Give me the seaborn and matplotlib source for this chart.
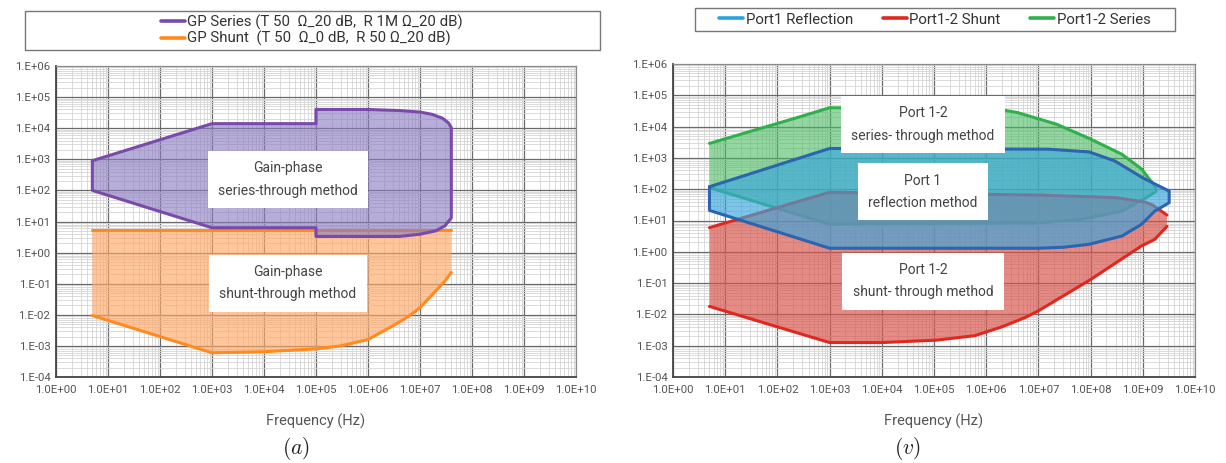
import numpy as np
import matplotlib
matplotlib.use("Agg")
import matplotlib.pyplot as plt
import seaborn as sns
from matplotlib.lines import Line2D
from matplotlib.patches import Rectangle
from matplotlib.ticker import LogLocator, FixedLocator, FixedFormatter

# ---------------- data ----------------
# Panel (a)
gp_series_up_f = [5, 1e3, 1e5, 1e5, 1e6, 4e6, 1e7, 1.7e7, 2.7e7, 3.5e7, 4e7]
gp_series_up_v = [900, 1.4e4, 1.4e4, 4e4, 4e4, 3.7e4, 3.3e4, 2.8e4, 2.1e4, 1.5e4, 1.05e4]
gp_series_lo_f = [5, 1e3, 1e5, 1e5, 4e6, 1e7, 2e7, 3e7, 4e7]
gp_series_lo_v = [100, 6.3, 6.3, 3.3, 3.3, 3.9, 5.0, 7.2, 13]

gp_shunt_up_f = [5, 4e7]
gp_shunt_up_v = [5.2, 5.2]
gp_shunt_lo_f = [5, 1e3, 1e4, 1e5, 3e5, 1e6, 3e6, 6.3e6, 1e7, 2e7, 3e7, 4e7]
gp_shunt_lo_v = [0.0095, 6e-4, 6.5e-4, 8e-4, 1.0e-3, 1.6e-3, 4.4e-3, 9.3e-3,
                 0.017, 0.058, 0.12, 0.23]

# Panel (v)
ser_up_f = [5, 2.3e2, 1e3, 1.4e6, 4e6, 2.2e7, 1e8, 4e8, 9.5e8, 1.8e9]
ser_up_v = [2.9e3, 1.9e4, 4e4, 3.8e4, 2.8e4, 1.2e4, 4e3, 1.3e3, 440, 110]
ser_lo_f = [5, 1e3, 1e7, 7e7, 4e8, 1.3e9, 1.8e9]
ser_lo_v = [112, 7.6, 8.4, 11, 20, 60, 85]

refl_up_f = [5, 1e3, 1.6e7, 9.4e7, 2.9e8, 1e9, 3.2e9]
refl_up_v = [120, 2e3, 1.9e3, 1.55e3, 800, 230, 87]
refl_lo_f = [5, 1e3, 1e7, 3.1e7, 9.4e7, 4e8, 9.5e8, 1.7e9, 3.2e9]
refl_lo_v = [21, 1.3, 1.3, 1.4, 1.74, 3.2, 7.6, 20, 37]

sh_up_f = [5, 1e3, 1e7, 2.9e8, 1.1e9, 1.5e9, 2.9e9]
sh_up_v = [5.9, 80, 65, 54, 39, 32, 15]
sh_lo_f = [5, 1e3, 1e4, 1.1e5, 6.1e5, 2e6, 5.6e6, 1e7, 1e8, 9.5e8, 1.7e9, 2.9e9]
sh_lo_v = [0.018, 1.26e-3, 1.26e-3, 1.5e-3, 2.1e-3, 4e-3, 8e-3, 0.013, 0.13, 1.55, 2.5, 6.5]

x_ticks = [10.0 ** k for k in range(0, 11)]
x_labels = ["1.0E+%02d" % k for k in range(0, 11)]
y_ticks = [10.0 ** k for k in range(-4, 7)]
y_labels = ["1.E%+03d" % k for k in range(-4, 7)]

legend_a = ["GP Series (T 50  \u03a9_20 dB,  R 1M \u03a9_20 dB)",
            "GP Shunt  (T 50  \u03a9_0 dB,  R 50 \u03a9_20 dB)"]
legend_v = ["Port1 Reflection", "Port1-2 Shunt", "Port1-2 Series"]

# ---------------- style ----------------
sns.set_theme(style="white")
plt.rcParams["font.family"] = ["Roboto", "DejaVu Sans"]
plt.rcParams["mathtext.fontset"] = "cm"

W, H = 1226, 463
fig = plt.figure(figsize=(W / 100, H / 100), dpi=100)
ax_a = fig.add_axes([56 / W, 1 - 377 / H, 520 / W, 311 / H])
ax_v = fig.add_axes([673 / W, 1 - 377 / H, 522 / W, 313 / H])


def setup(ax):
    ax.set_xscale("log")
    ax.set_yscale("log")
    ax.set_xlim(1, 1e10)
    ax.set_ylim(1e-4, 1e6)
    ax.xaxis.set_major_locator(FixedLocator(x_ticks))
    ax.xaxis.set_major_formatter(FixedFormatter(x_labels))
    ax.yaxis.set_major_locator(FixedLocator(y_ticks))
    ax.yaxis.set_major_formatter(FixedFormatter(y_labels))
    ax.xaxis.set_minor_locator(LogLocator(base=10, subs=np.arange(2, 10), numticks=100))
    ax.yaxis.set_minor_locator(LogLocator(base=10, subs=np.arange(2, 10), numticks=100))
    ax.grid(which="major", color="#6a6a6a", lw=0.9, zorder=0)
    ax.grid(which="minor", color="#d4d4d4", lw=0.6, zorder=0)
    ax.set_axisbelow(True)
    ax.tick_params(which="both", length=0)
    ax.tick_params(axis="x", labelsize=8.2, labelcolor="#555555", pad=6)
    ax.tick_params(axis="y", labelsize=8.2, labelcolor="#555555", pad=4)
    for s in ["left", "bottom"]:
        ax.spines[s].set_color("#444444")
        ax.spines[s].set_linewidth(1.3)
    for s in ["top", "right"]:
        ax.spines[s].set_color("#8a8a8a")
        ax.spines[s].set_linewidth(0.9)
    ax.set_xlabel("Frequency (Hz)", fontsize=10.5, color="#555555", labelpad=13)
    ax.set_ylabel("")


def band(ax, fu, vu, fl, vl, edge, fill, alpha, closed, z):
    xs = np.r_[fu, fl[::-1]]
    ys = np.r_[vu, vl[::-1]]
    ax.fill(xs, ys, color=fill, alpha=alpha, lw=0, zorder=z)
    if closed:
        sns.lineplot(x=np.r_[xs, xs[:1]], y=np.r_[ys, ys[:1]], sort=False,
                     estimator=None, color=edge, lw=2.2, ax=ax, zorder=z + 0.5)
    else:
        sns.lineplot(x=fu, y=vu, sort=False, estimator=None, color=edge,
                     lw=2.2, ax=ax, zorder=z + 0.5)
        sns.lineplot(x=fl, y=vl, sort=False, estimator=None, color=edge,
                     lw=2.2, ax=ax, zorder=z + 0.5)


setup(ax_a)
setup(ax_v)

PURPLE, PURPLE_F = "#7a4aaa", "#8a7cc2"
ORANGE, ORANGE_F = "#ff8a1e", "#ffa866"
GREEN, GREEN_F = "#2fb04a", "#4cbb62"
BLUE, BLUE_F = "#2b64b0", "#38a6dc"
RED, RED_F = "#e0281e", "#d9544c"
LBLUE = "#29a3dd"

# Panel (a)
band(ax_a, gp_shunt_up_f, gp_shunt_up_v, gp_shunt_lo_f, gp_shunt_lo_v,
     ORANGE, ORANGE_F, 0.65, False, 2)
band(ax_a, gp_series_up_f, gp_series_up_v, gp_series_lo_f, gp_series_lo_v,
     PURPLE, PURPLE_F, 0.62, True, 3)

# Panel (v)
band(ax_v, ser_up_f, ser_up_v, ser_lo_f, ser_lo_v, GREEN, GREEN_F, 0.6, False, 2)
band(ax_v, sh_up_f, sh_up_v, sh_lo_f, sh_lo_v, RED, RED_F, 0.68, False, 3)
band(ax_v, refl_up_f, refl_up_v, refl_lo_f, refl_lo_v, BLUE, BLUE_F, 0.66, True, 4)

box = dict(boxstyle="square,pad=0.75", facecolor="white", edgecolor="none")
kw = dict(ha="center", va="center", fontsize=10, color="#444444",
          linespacing=1.75, bbox=box, zorder=10)
ax_a.text(10 ** 4.46, 10 ** 2.35, "Gain-phase\nseries-through method", **kw)
ax_a.text(10 ** 4.46, 10 ** -0.98, "Gain-phase\nshunt-through method", **kw)
ax_v.text(10 ** 4.79, 10 ** 4.07, "Port 1-2\nseries- through method", **kw)
ax_v.text(10 ** 4.79, 10 ** 1.92, "Port 1\nreflection method", **kw)
ax_v.text(10 ** 4.79, 10 ** -0.94, "Port 1-2\nshunt- through method", **kw)

for ax in (ax_a, ax_v):
    if ax.get_legend() is not None:
        ax.get_legend().remove()

# Legend boxes
fig.patches.append(Rectangle((25 / W, 1 - 50 / H), 575 / W, 39 / H, transform=fig.transFigure,
                             facecolor="white", edgecolor="#777777", lw=1.0, zorder=0))
fig.patches.append(Rectangle((695 / W, 1 - 31 / H), 480 / W, 23 / H, transform=fig.transFigure,
                             facecolor="white", edgecolor="#777777", lw=1.0, zorder=0))

h_a = [Line2D([], [], color=PURPLE, lw=2.6), Line2D([], [], color=ORANGE, lw=2.6)]
fig.legend(h_a, legend_a, loc="center", bbox_to_anchor=(312 / W, 1 - 30.5 / H),
           ncol=1, frameon=False, fontsize=10.8, handlelength=1.6, handletextpad=0.15,
           labelspacing=0.05, borderpad=0, labelcolor="#333333")
h_v = [Line2D([], [], color=LBLUE, lw=2.6), Line2D([], [], color=RED, lw=2.6),
       Line2D([], [], color=GREEN, lw=2.6)]
fig.legend(h_v, legend_v, loc="center", bbox_to_anchor=(935 / W, 1 - 19.5 / H),
           ncol=3, frameon=False, fontsize=10.8, handlelength=1.6, handletextpad=0.15,
           columnspacing=2.0, borderpad=0, labelcolor="#333333")

fig.text(296 / W, 1 - 448 / H, r"$(a)$", ha="center", va="center", fontsize=15.5, color="#222222")
fig.text(908 / W, 1 - 448 / H, r"$(v)$", ha="center", va="center", fontsize=15.5, color="#222222")

fig.savefig("out.png", dpi=100)
